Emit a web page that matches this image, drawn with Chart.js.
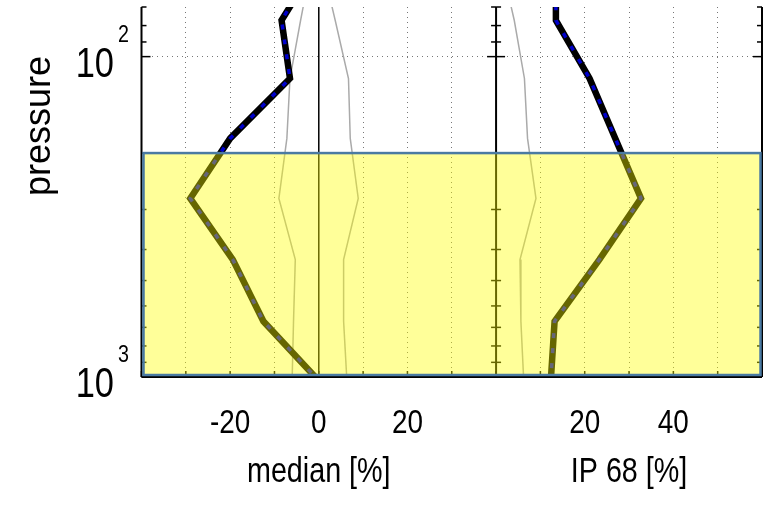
<!DOCTYPE html>
<html>
<head>
<meta charset="utf-8">
<script src="https://cdn.jsdelivr.net/npm/chart.js@4/dist/chart.umd.min.js"></script>
<style>
  html, body { margin: 0; padding: 0; background: #fff; }
</style>
</head>
<body>
<canvas id="profileChart" width="768" height="514"></canvas>
<script>
// PROFILE DATA (pressure in hPa, values in %)
const pressureLevels = [50, 77, 117, 180, 277, 430, 670, 1000];
const medianValues = [0, -8.4, -6.5, -20, -29, -19.4, -12.5, -0.8];
const medianLow = [-1.5, -4.1, -6.5, -7.2, -9.0, -5.3, -5.7, -6.0];
const medianHigh = [0.5, 3.7, 6.7, 7.1, 8.9, 5.6, 5.6, 6.3];
const ip68Values = [13.5, 13.5, 21.1, 26.9, 32.7, 23.3, 13.2, 12.4];
const ip68Ref = [1.0, 4.1, 6.4, 7.1, 9.0, 5.4, 5.6, 6.2];

// AXES
const medianTicks = [-20, 0, 20];
const ip68Ticks = [20, 40];
const pressureTicks = [100, 1000];
const pressureMinor = [70, 80, 90, 200, 300, 400, 500, 600, 700, 800, 900];
const boxRange = [200, 1000];

const FONT = '"Liberation Sans", Arial, sans-serif';
const SQUISH = 0.82;

function toPoints(values) {
    return values.map((v, i) => ({ x: v, y: pressureLevels[i] }));
}

function line(ctx, x1, y1, x2, y2) {
    ctx.beginPath();
    ctx.moveTo(x1, y1);
    ctx.lineTo(x2, y2);
    ctx.stroke();
}

// narrow text, like the squeezed figure
function narrowText(ctx, text, x, y, size, align) {
    ctx.save();
    ctx.translate(x, y);
    ctx.scale(SQUISH, 1);
    ctx.font = size + "px " + FONT;
    ctx.textAlign = align;
    ctx.textBaseline = "alphabetic";
    ctx.fillText(text, 0, 0);
    ctx.restore();
}

// FRAMES, INWARD TICKS AND THE YELLOW BOX
const framePlugin = {
    id: "frames",
    afterDatasetsDraw(chart) {
        const ctx = chart.ctx;
        const ys = chart.scales.y;
        const xm = chart.scales.x;
        const xi = chart.scales.x2;
        const top = chart.chartArea.top;
        const bottom = chart.chartArea.bottom;
        ctx.save();

        // zero line
        ctx.strokeStyle = "#000";
        ctx.lineWidth = 1.5;
        const x0 = xm.getPixelForValue(0);
        line(ctx, x0, top, x0, bottom);

        // panel borders
        ctx.lineWidth = 2;
        [xm.left, xm.right, xi.right].forEach(x => line(ctx, x, top, x, bottom));
        line(ctx, xm.left, bottom, xi.right, bottom);

        // pressure ticks
        ctx.lineWidth = 1.5;
        const edges = [[xm.left, 1], [xm.right, -1], [xi.left, 1], [xi.right, -1]];
        edges.forEach(([x, dir]) => {
            pressureMinor.forEach(p => {
                const y = ys.getPixelForValue(p);
                line(ctx, x, y, x + dir * 5, y);
            });
            pressureTicks.forEach(p => {
                const y = ys.getPixelForValue(p);
                line(ctx, x, y, x + dir * 9, y);
            });
        });

        // bottom ticks
        [xm, xi].forEach(s => {
            s.ticks.forEach(t => {
                const x = s.getPixelForValue(t.value);
                line(ctx, x, bottom, x, bottom - 6);
            });
        });

        // yellow box
        const yTop = ys.getPixelForValue(boxRange[0]);
        const yBot = ys.getPixelForValue(boxRange[1]);
        const bx = xm.left + 2;
        const bw = xi.right - xm.left - 3.5;
        const bh = yBot - yTop - 2;
        ctx.fillStyle = "rgba(255,255,0,0.4)";
        ctx.fillRect(bx, yTop, bw, bh);
        ctx.strokeStyle = "#4a7aa2";
        ctx.lineWidth = 2.5;
        ctx.strokeRect(bx, yTop, bw, bh);

        ctx.restore();
    },
    afterDraw(chart) {
        const ctx = chart.ctx;
        const ys = chart.scales.y;
        const xm = chart.scales.x;
        const xi = chart.scales.x2;
        ctx.save();
        ctx.fillStyle = "#000";

        // pressure labels 10^n
        pressureTicks.forEach(p => {
            const y = ys.getPixelForValue(p);
            narrowText(ctx, "10", 114, y + 20, 42, "right");
            narrowText(ctx, String(Math.round(Math.log10(p))), 118, y - 15, 24, "left");
        });

        // x tick labels and titles
        medianTicks.forEach(v => narrowText(ctx, String(v), xm.getPixelForValue(v), 433, 34, "center"));
        ip68Ticks.forEach(v => narrowText(ctx, String(v), xi.getPixelForValue(v), 433, 34, "center"));
        narrowText(ctx, "median [%]", (xm.left + xm.right) / 2, 482, 35, "center");
        narrowText(ctx, "IP 68 [%]", (xi.left + xi.right) / 2, 482, 35, "center");

        // y axis title
        ctx.translate(50, 126);
        ctx.rotate(-Math.PI / 2);
        ctx.textAlign = "center";
        ctx.font = "36px " + FONT;
        ctx.fillText("pressure", 0, 0);
        ctx.restore();
    }
};

function gridColor(ctx, min, max) {
    const v = ctx.tick ? ctx.tick.value : null;
    if (v === null || v === min || v === max || v === 0) return "rgba(0,0,0,0)";
    return "#777";
}

function panelAxis(min, max, weight) {
    return {
        type: "linear",
        position: "bottom",
        stack: "panels",
        stackWeight: weight,
        min: min,
        max: max,
        afterFit: s => { s.height = 137; },
        ticks: { stepSize: 10, autoSkip: false, display: false },
        grid: { drawTicks: false, color: c => gridColor(c, min, max) },
        border: { display: false, dash: [1, 4] }
    };
}

const ctx = document.getElementById("profileChart").getContext("2d");
new Chart(ctx, {
    type: "line",
    data: {
        datasets: [
            { data: toPoints(medianValues), xAxisID: "x", borderColor: "#0000cc", borderWidth: 3.5, borderDash: [5, 10], order: 0 },
            { data: toPoints(medianValues), xAxisID: "x", borderColor: "#000", borderWidth: 6.5, order: 1 },
            { data: toPoints(ip68Values), xAxisID: "x2", borderColor: "#0000cc", borderWidth: 3.5, borderDash: [5, 10], order: 0 },
            { data: toPoints(ip68Values), xAxisID: "x2", borderColor: "#000", borderWidth: 6.5, order: 1 },
            { data: toPoints(medianLow), xAxisID: "x", borderColor: "#aaa", borderWidth: 1.5, order: 2 },
            { data: toPoints(medianHigh), xAxisID: "x", borderColor: "#aaa", borderWidth: 1.5, order: 2 },
            { data: toPoints(ip68Ref), xAxisID: "x2", borderColor: "#aaa", borderWidth: 1.5, order: 2 }
        ]
    },
    options: {
        responsive: false,
        animation: false,
        layout: { padding: { top: 7, right: 6, left: 0, bottom: 0 } },
        plugins: { legend: { display: false }, tooltip: { enabled: false } },
        elements: { point: { radius: 0 }, line: { tension: 0, fill: false } },
        scales: {
            y: {
                type: "logarithmic",
                reverse: true,
                min: 70,
                max: 1000,
                afterBuildTicks: s => { s.ticks = pressureTicks.map(v => ({ value: v })); },
                afterFit: s => { s.width = 141.5; },
                ticks: { display: false },
                grid: { drawTicks: false, color: c => (c.tick && c.tick.value === 100 ? "#777" : "rgba(0,0,0,0)") },
                border: { display: false, dash: [1, 4] }
            },
            x: panelAxis(-40, 40, 80),
            x2: panelAxis(0, 60, 60)
        }
    },
    plugins: [framePlugin]
});
</script>
</body>
</html>
